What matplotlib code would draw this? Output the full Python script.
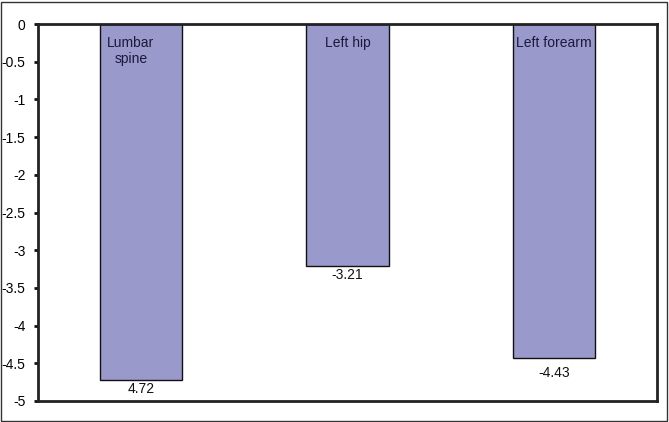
import matplotlib
matplotlib.use("Agg")
import matplotlib.pyplot as plt
from matplotlib.patches import Rectangle

sites = ["Lumbar\nspine", "Left hip", "Left forearm"]
values = [-4.72, -3.21, -4.43]
value_labels = ["4.72", "-3.21", "-4.43"]
yticks = [0, -0.5, -1, -1.5, -2, -2.5, -3, -3.5, -4, -4.5, -5]

plt.rcParams["font.family"] = ["Liberation Sans", "DejaVu Sans"]

fig = plt.figure(figsize=(6.69, 4.22), dpi=100)
ax = fig.add_axes([38 / 669, 1 - 401 / 422, (657 - 38) / 669, (401 - 24) / 422])

x = list(range(len(sites)))
ax.bar(x, values, width=0.4, color="#9999cc", edgecolor="#111111", linewidth=1.0, zorder=2)

# category names inside the bars, near the top
name_dx = [-0.05, 0, 0]
for xi, name, dx in zip(x, sites, name_dx):
    ax.text(xi + dx, -0.16, name, ha="center", va="top", fontsize=10,
            color="#1a1a3a", linespacing=1.15, zorder=3)

# value labels under the bars
label_dy = [-1.5, -1.5, -6]
for xi, v, lab, dy in zip(x, values, value_labels, label_dy):
    ax.annotate(lab, (xi, v), xytext=(0, dy), textcoords="offset points",
                ha="center", va="top", fontsize=10, color="#111111")

ax.set_xlim(-0.5, len(sites) - 0.5)
ax.set_ylim(-5, 0)
ax.set_yticks(yticks)
ax.set_yticklabels([f"{t:g}" for t in yticks])
ax.set_xticks([])
ax.tick_params(axis="y", direction="out", length=3, width=2, labelsize=10,
               color="#111111", pad=6)
for s in ax.spines.values():
    s.set_linewidth(2)
    s.set_color("#222222")

# outer frame around the whole figure
fig.patches.append(Rectangle((1 / 669, 1 / 422), 666 / 669, 419 / 422,
                             transform=fig.transFigure, fill=False,
                             edgecolor="#333333", linewidth=1))

fig.savefig("out.png", dpi=100)
